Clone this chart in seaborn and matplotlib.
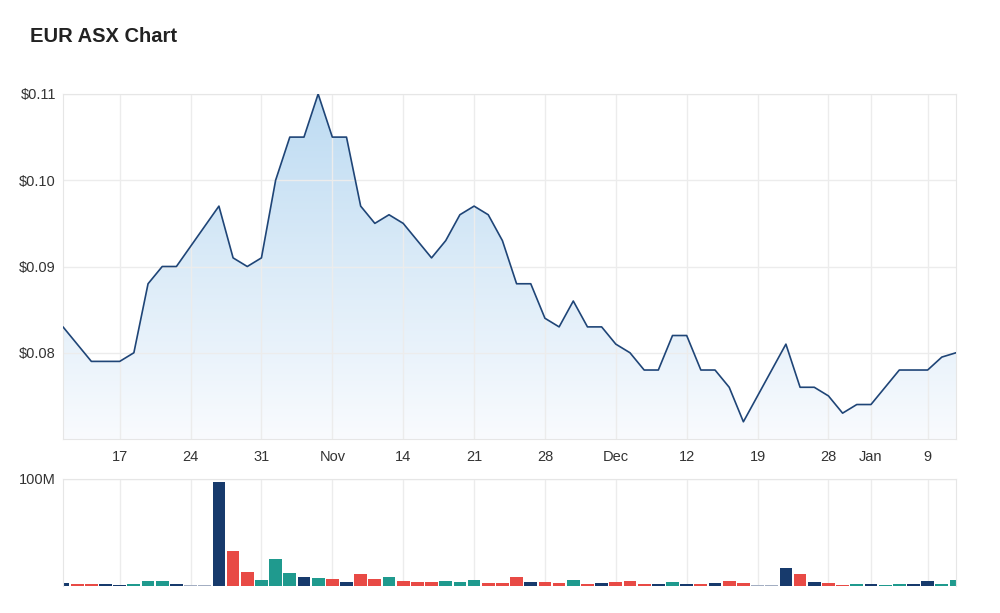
import numpy as np
import pandas as pd
import seaborn as sns
import matplotlib.pyplot as plt
from matplotlib.colors import LinearSegmentedColormap
from matplotlib.ticker import FuncFormatter

# ASX trading days (Christmas / Boxing Day / New Year closures removed)
holidays = ["2022-12-26", "2022-12-27", "2023-01-02"]
dates = pd.bdate_range("2022-10-11", "2023-01-11", freq="C", holidays=holidays)

# closing price, None = no trade (halt)
price = [0.083, 0.081, 0.079, 0.079, 0.079, 0.080, 0.088, 0.090, 0.090, None,
         None, 0.097, 0.091, 0.090, 0.091, 0.100, 0.105, 0.105, 0.110, 0.105,
         0.105, 0.097, 0.095, 0.096, 0.095, 0.093, 0.091, 0.093, 0.096, 0.097,
         0.096, 0.093, 0.088, 0.088, 0.084, 0.083, 0.086, 0.083, 0.083, 0.081,
         0.080, 0.078, 0.078, 0.082, 0.082, 0.078, 0.078, 0.076, 0.072, None,
         None, 0.081, 0.076, 0.076, 0.075, 0.073, 0.074, 0.074, 0.076, 0.078,
         0.078, 0.078, 0.0795, 0.080]

# volume in millions of shares
volume_m = [3.1, 2.2, 2.2, 2.2, 1.3, 2.2, 5.0, 4.4, 2.2, 0.5,
            0.5, 97.5, 32.6, 13.5, 5.3, 24.8, 12.5, 8.5, 7.5, 6.6,
            3.4, 11.6, 6.3, 8.5, 4.4, 3.4, 3.4, 4.4, 3.4, 5.3,
            2.5, 3.1, 8.5, 3.4, 3.4, 2.5, 5.3, 1.6, 2.5, 3.4,
            4.4, 1.6, 1.6, 3.4, 1.6, 1.6, 2.5, 4.4, 2.5, 0.5,
            0.5, 16.6, 11.6, 3.4, 2.5, 0.9, 1.6, 1.6, 0.9, 1.6,
            1.6, 4.4, 1.6, 5.3]

move = ["flat", "down", "down", "flat", "flat", "up", "up", "up", "flat", "halt",
        "halt", "flat", "down", "down", "up", "up", "up", "flat", "up", "down",
        "flat", "down", "down", "up", "down", "down", "down", "up", "up", "up",
        "down", "down", "down", "flat", "down", "down", "up", "down", "flat", "down",
        "down", "down", "flat", "up", "flat", "down", "flat", "down", "down", "halt",
        "halt", "flat", "down", "flat", "down", "down", "up", "flat", "up", "up",
        "flat", "flat", "up", "up"]

df = pd.DataFrame({"day": np.arange(len(dates)), "date": dates,
                   "price": pd.Series(price, dtype="float"),
                   "volume": np.array(volume_m) * 1e6, "move": move})

# weekly ticks on the first session of each week, month name for first tick of a month
wk = df.groupby(df.date.dt.isocalendar().week.values, sort=False).head(1).iloc[1:]
tick_pos, tick_lab, last_month = [], [], df.date.iloc[0].month
for _, r in wk.iterrows():
    tick_pos.append(r.day)
    tick_lab.append(r.date.strftime("%b") if r.date.month != last_month else str(r.date.day))
    last_month = r.date.month

sns.set_style("white")
plt.rcParams["font.family"] = ["Liberation Sans", "DejaVu Sans"]
grid_c = "#ececec"
pal = {"up": "#1f9a8e", "down": "#e84a45", "flat": "#173a6c", "halt": "#a3aec2"}

fig = plt.figure(figsize=(10, 6.13), dpi=100)
ax = fig.add_axes([0.063, 0.2838, 0.893, 0.5629])
axv = fig.add_axes([0.063, 0.044, 0.893, 0.1746], sharex=ax)

# price area with vertical gradient
pts = df.dropna(subset=["price"])
poly = ax.fill_between(pts.day, pts.price, 0.07, color="none", lw=0)
cmap = LinearSegmentedColormap.from_list("fade", ["#f9fbfe", "#bddbf2"])
im = ax.imshow(np.linspace(0, 1, 256).reshape(-1, 1), cmap=cmap, aspect="auto",
               origin="lower", extent=[0, 63, 0.07, 0.11], zorder=0.2)
im.set_clip_path(poly.get_paths()[0], transform=ax.transData)
sns.lineplot(data=pts, x="day", y="price", color="#1f4577", lw=1.2, ax=ax, zorder=3)

ax.set_xlim(0, len(df) - 1)
ax.set_ylim(0.07, 0.11)
ax.set_yticks([0.08, 0.09, 0.10, 0.11])
ax.yaxis.set_major_formatter(FuncFormatter(lambda v, p: f"${v:.2f}"))
ax.set_xticks(tick_pos, tick_lab)
ax.set_axisbelow(True)
ax.grid(True, color=grid_c, lw=1)
ax.tick_params(length=0, labelsize=10.5, colors="#333333")
ax.tick_params(axis="x", pad=8)
ax.tick_params(axis="y", pad=5)
ax.set_xlabel("")
ax.set_ylabel("")

# volume bars
sns.barplot(data=df, x="day", y="volume", hue="move", palette=pal, native_scale=True,
            dodge=False, legend=False, width=0.9, saturation=1, linewidth=0,
            errorbar=None, ax=axv)
axv.set_xlim(0, len(df) - 1)
axv.set_ylim(0, 100e6)
axv.set_yticks([100e6], ["100M"])
axv.set_axisbelow(True)
axv.grid(True, color=grid_c, lw=1)
axv.tick_params(length=0, labelsize=10.5, colors="#333333", labelbottom=False)
axv.tick_params(axis="y", pad=5)
axv.set_xlabel("")
axv.set_ylabel("")

for a in (ax, axv):
    for s in a.spines.values():
        s.set_color("#e6e6e6")
axv.spines["bottom"].set_visible(False)

fig.text(0.030, 1 - 37 / 613, "EUR ASX Chart", fontsize=14.5, fontweight="bold",
         va="center", color="#222222")

fig.savefig("out.png", dpi=100, facecolor="white")
